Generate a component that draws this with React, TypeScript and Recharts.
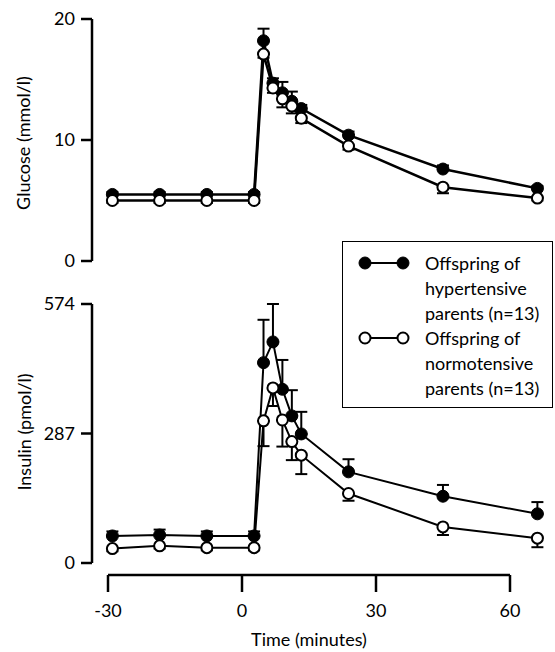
import React from 'react';
import { LineChart, Line, XAxis, YAxis, ErrorBar } from 'recharts';

const times = [-30, -20, -10, 0, 2, 4, 6, 8, 10, 20, 40, 60];
const glucoseHyper = [5.5, 5.5, 5.5, 5.5, 18.2, 14.7, 13.9, 13.2, 12.6, 10.4, 7.6, 6.0];
const glucoseHyperErr = [0.2, 0.2, 0.2, 0.2, 1.0, 0.4, 0.9, 0.8, 0.3, 0.3, 0.3, 0.2];
const glucoseNormo = [5.0, 5.0, 5.0, 5.0, 17.1, 14.3, 13.4, 12.8, 11.8, 9.5, 6.1, 5.2];
const glucoseNormoErr = [0.2, 0.2, 0.2, 0.2, 0.3, 0.4, 0.7, 0.6, 0.4, 0.3, 0.5, 0.2];
const insulinHyper = [60, 62, 60, 60, 444, 490, 385, 326, 286, 202, 148, 109];
const insulinHyperErr = [10, 12, 10, 10, 95, 84, 65, 57, 49, 28, 25, 26];
const insulinNormo = [32, 38, 34, 34, 315, 388, 317, 269, 239, 154, 80, 55];
const insulinNormoErr = [6, 6, 6, 6, 56, 40, 59, 41, 42, 16, 18, 20];

const glucoseTicks = [0, 10, 20];
const insulinTicks = [0, 287, 574];
const timeTicks = [-30, 0, 30, 60];

const seriesHyperLines = ['Offspring of', 'hypertensive', 'parents (n=13)'];
const seriesNormoLines = ['Offspring of', 'normotensive', 'parents (n=13)'];

const FONT = 'Lato, "DejaVu Sans", sans-serif';

const glucoseData = times.map((t, i) => ({
  t,
  h: glucoseHyper[i],
  he: [0, glucoseHyperErr[i]],
  n: glucoseNormo[i],
  ne: [glucoseNormoErr[i], 0],
}));
const insulinData = times.map((t, i) => ({
  t,
  h: insulinHyper[i],
  he: [0, insulinHyperErr[i]],
  n: insulinNormo[i],
  ne: [insulinNormoErr[i], 0],
}));
const axisData = times.map((t) => ({ t }));

const DATA_DOMAIN: [number, number] = [-34.32, 61.61];

const tickStyle = { fill: '#000', fontSize: 18, fontFamily: FONT };
const axisLineStyle = { stroke: '#000', strokeWidth: 2.5 };

const filledDot = { r: 6, fill: '#000', stroke: '#000', strokeWidth: 1 };
const openDot = { r: 5.5, fill: '#fff', stroke: '#000', strokeWidth: 2 };

const Panel = ({ data, domain, ticks, top, height, marginTop, lineWidth }: any) => (
  <div style={{ position: 'absolute', left: 0, top }}>
    <LineChart
      width={555}
      height={height}
      data={data}
      margin={{ top: marginTop, right: 10, bottom: 19, left: 12 }}
    >
      <XAxis type="number" dataKey="t" domain={DATA_DOMAIN} allowDataOverflow hide />
      <YAxis
        type="number"
        domain={domain}
        ticks={ticks}
        width={80}
        tickSize={11}
        tickMargin={6}
        tick={tickStyle}
        axisLine={axisLineStyle}
        tickLine={axisLineStyle}
      />
      <Line
        dataKey="h"
        stroke="#000"
        strokeWidth={lineWidth}
        dot={filledDot}
        activeDot={false}
        isAnimationActive={false}
      >
        <ErrorBar dataKey="he" direction="y" width={6} stroke="#000" strokeWidth={2} />
      </Line>
      <Line
        dataKey="n"
        stroke="#000"
        strokeWidth={lineWidth}
        dot={openDot}
        activeDot={false}
        isAnimationActive={false}
      >
        <ErrorBar dataKey="ne" direction="y" width={6} stroke="#000" strokeWidth={2} />
      </Line>
    </LineChart>
  </div>
);

const AxisTitle = ({ text, cx, cy }: { text: string; cx: number; cy: number }) => (
  <div
    style={{
      position: 'absolute',
      left: cx - 100,
      top: cy - 12,
      width: 200,
      height: 24,
      lineHeight: '24px',
      textAlign: 'center',
      fontSize: 18,
      fontFamily: FONT,
      color: '#000',
      transform: 'rotate(-90deg)',
      transformOrigin: '50% 50%',
      whiteSpace: 'nowrap',
    }}
  >
    {text}
  </div>
);

const LegendIcon = ({ filled }: { filled: boolean }) => (
  <svg width={56} height={16} style={{ position: 'absolute', left: 0, top: 4 }}>
    <line x1={8} y1={8} x2={46} y2={8} stroke="#000" strokeWidth={2} />
    <circle cx={8} cy={8} r={filled ? 6 : 5.5} fill={filled ? '#000' : '#fff'} stroke="#000" strokeWidth={filled ? 1 : 2} />
    <circle cx={46} cy={8} r={filled ? 6 : 5.5} fill={filled ? '#000' : '#fff'} stroke="#000" strokeWidth={filled ? 1 : 2} />
  </svg>
);

const LegendEntry = ({ lines, filled }: { lines: string[]; filled: boolean }) => (
  <div style={{ position: 'relative', height: 75 }}>
    <div style={{ position: 'absolute', left: 14, top: 0, width: 56, height: 25 }}>
      <LegendIcon filled={filled} />
    </div>
    <div style={{ position: 'absolute', left: 82, top: 0 }}>
      {lines.map((l, i) => (
        <div key={i} style={{ height: 25, lineHeight: '25px', whiteSpace: 'nowrap' }}>
          {l}
        </div>
      ))}
    </div>
  </div>
);

export default function App() {
  return (
    <div
      style={{
        position: 'absolute',
        left: 0,
        top: 0,
        width: 555,
        height: 652,
        background: '#fff',
        fontFamily: FONT,
      }}
    >
      <Panel data={glucoseData} domain={[0, 20]} ticks={glucoseTicks} top={0} height={280} marginTop={19} lineWidth={2.5} />
      <Panel data={insulinData} domain={[0, 574]} ticks={insulinTicks} top={280} height={302} marginTop={24} lineWidth={2} />
      <AxisTitle text="Glucose (mmol/l)" cx={23} cy={143} />
      <AxisTitle text="Insulin (pmol/l)" cx={24} cy={432} />
      <div style={{ position: 'absolute', left: 0, top: 565 }}>
        <LineChart width={555} height={87} data={axisData} margin={{ top: 0, right: 45, bottom: 0, left: 108 }}>
          <XAxis
            type="number"
            dataKey="t"
            domain={[-30, 60]}
            ticks={timeTicks}
            height={77}
            tickSize={17}
            tickMargin={12}
            tick={tickStyle}
            axisLine={axisLineStyle}
            tickLine={axisLineStyle}
            label={{ value: 'Time (minutes)', position: 'insideBottom', offset: 6, fill: '#000', fontSize: 18, fontFamily: FONT }}
          />
          <YAxis hide domain={[0, 1]} />
        </LineChart>
      </div>
      <div
        style={{
          position: 'absolute',
          left: 342,
          top: 241,
          width: 211,
          height: 167,
          boxSizing: 'border-box',
          border: '1.5px solid #000',
          background: '#fff',
          fontSize: 18,
          color: '#000',
          paddingTop: 9,
        }}
      >
        <LegendEntry lines={seriesHyperLines} filled={true} />
        <LegendEntry lines={seriesNormoLines} filled={false} />
      </div>
    </div>
  );
}
